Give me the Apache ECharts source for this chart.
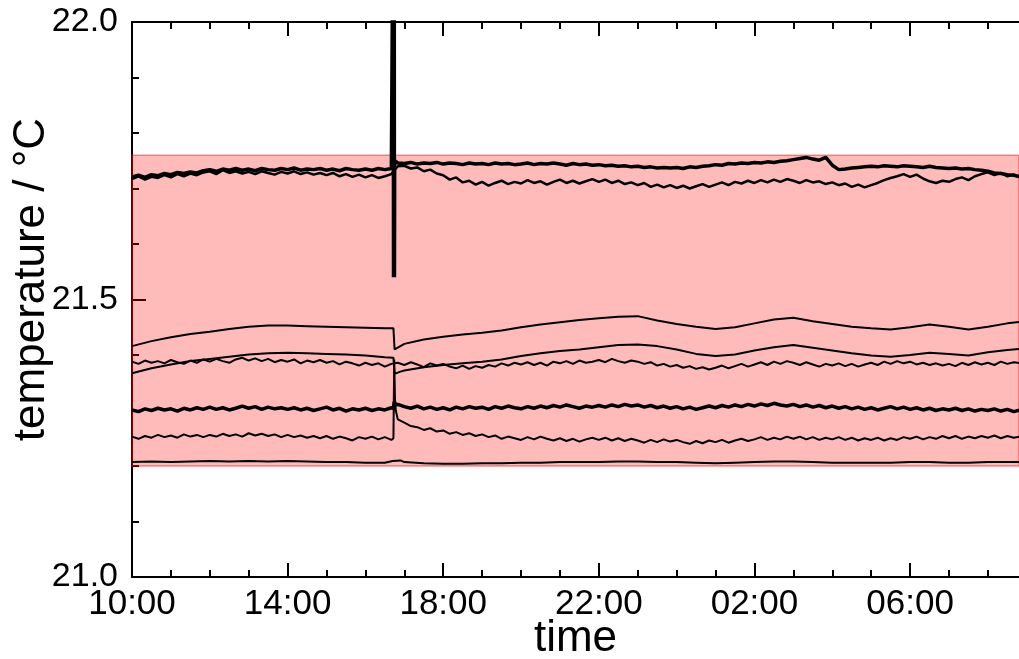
<!DOCTYPE html>
<html><head><meta charset="utf-8">
<script src="https://cdn.jsdelivr.net/npm/echarts@6/dist/echarts.min.js"></script>
<style>html,body{margin:0;padding:0;background:#fff}#c{width:1019px;height:659px}</style>
</head><body><div id="c"></div>
<script>
// ---------- data ----------
const START_HOUR = 10;            // x = hours after 10:00
const END_HOURS = 22.8;           // right edge of the plot (about 08:48)
const NOISY_STEP = 1 / 6;         // 10-minute samples
const SMOOTH_STEP = 0.5;          // 30-minute samples
const bandLimits = [21.2, 21.76];
const majorTickHours = [0, 4, 8, 12, 16, 20];
const minorTickHours = [1,2,3,5,6,7,9,10,11,13,14,15,17,18,19,21,22];

// top thick line
const t1Values = [
21.721,21.724,21.720,21.725,21.723,21.727,
21.725,21.729,21.727,21.730,21.728,21.732,
21.734,21.731,21.735,21.733,21.736,21.733,
21.735,21.732,21.736,21.734,21.733,21.736,
21.734,21.737,21.733,21.735,21.734,21.736,
21.733,21.735,21.732,21.736,21.734,21.733,
21.735,21.733,21.736,21.734,21.736,21.746,
21.745,21.747,21.744,21.746,21.745,21.747,
21.744,21.746,21.745,21.743,21.746,21.744,
21.745,21.743,21.746,21.744,21.745,21.743,
21.744,21.746,21.743,21.745,21.744,21.746,
21.744,21.742,21.745,21.743,21.744,21.742,
21.743,21.741,21.742,21.740,21.741,21.739,
21.740,21.738,21.739,21.737,21.738,21.737,
21.738,21.736,21.739,21.738,21.740,21.741,
21.743,21.742,21.745,21.744,21.746,21.745,
21.747,21.746,21.748,21.747,21.749,21.750,
21.752,21.754,21.756,21.753,21.751,21.756,
21.742,21.734,21.735,21.737,21.738,21.739,
21.740,21.739,21.741,21.740,21.739,21.741,
21.740,21.739,21.738,21.740,21.738,21.737,
21.736,21.737,21.735,21.736,21.734,21.733,
21.731,21.728,21.727,21.725,21.724,21.721];
const t1Event = [[6.712,21.737],[6.716,22.3],[6.722,21.54],[6.728,22.3],[6.734,21.54],
                 [6.740,22.3],[6.746,21.54],[6.752,21.75]];

// second top line
const t2Values = [
21.717,21.722,21.716,21.721,21.719,21.724,
21.720,21.726,21.722,21.727,21.724,21.729,
21.731,21.726,21.733,21.728,21.731,21.727,
21.730,21.726,21.731,21.728,21.725,21.730,
21.727,21.731,21.726,21.729,21.725,21.728,
21.724,21.728,21.722,21.726,21.721,21.725,
21.720,21.724,21.719,21.722,21.726,21.740,
21.741,21.736,21.738,21.731,21.734,21.727,
21.724,21.716,21.720,21.711,21.714,21.707,
21.712,21.705,21.710,21.714,21.708,21.712,
21.709,21.715,21.710,21.713,21.707,21.712,
21.716,21.710,21.714,21.709,21.713,21.717,
21.712,21.716,21.710,21.714,21.708,21.711,
21.706,21.710,21.703,21.707,21.702,21.706,
21.701,21.705,21.700,21.704,21.708,21.703,
21.707,21.711,21.706,21.712,21.709,21.714,
21.710,21.715,21.711,21.716,21.712,21.717,
21.714,21.710,21.715,21.711,21.713,21.708,
21.711,21.706,21.709,21.703,21.707,21.702,
21.706,21.710,21.715,21.719,21.722,21.726,
21.721,21.725,21.718,21.713,21.710,21.714,
21.712,21.717,21.720,21.715,21.722,21.726,
21.729,21.724,21.728,21.722,21.725,21.720];

// smooth line ~21.45
const aValues = [
21.416,21.425,21.432,21.438,21.442,21.447,21.451,21.453,21.453,21.452,
21.451,21.450,21.449,21.448,21.420,21.428,21.433,21.437,21.440,21.444,
21.450,21.455,21.459,21.463,21.466,21.469,21.470,21.462,21.456,21.451,
21.447,21.450,21.457,21.464,21.467,21.461,21.456,21.451,21.448,21.446,
21.450,21.455,21.451,21.446,21.451,21.457,21.461];
const aEvent = [[6.72,21.448],[6.75,21.410],[6.8,21.412],[6.9,21.416]];

// noisy line ~21.385
const bValues = [
21.388,21.384,21.390,21.386,21.389,21.385,
21.391,21.387,21.384,21.390,21.386,21.392,
21.388,21.393,21.389,21.386,21.392,21.395,
21.390,21.394,21.389,21.393,21.387,21.391,
21.388,21.392,21.385,21.390,21.387,21.391,
21.386,21.389,21.383,21.388,21.385,21.381,
21.386,21.382,21.385,21.379,21.384,21.386,
21.382,21.387,21.383,21.378,21.385,21.381,
21.384,21.379,21.376,21.381,21.375,21.380,
21.377,21.382,21.379,21.385,21.381,21.386,
21.383,21.387,21.382,21.386,21.381,21.388,
21.385,21.389,21.384,21.390,21.386,21.388,
21.391,21.387,21.393,21.389,21.386,21.390,
21.388,21.384,21.387,21.381,21.384,21.379,
21.382,21.377,21.380,21.375,21.378,21.374,
21.377,21.381,21.376,21.380,21.384,21.379,
21.383,21.387,21.382,21.388,21.384,21.389,
21.386,21.382,21.387,21.383,21.379,21.384,
21.381,21.385,21.380,21.384,21.379,21.383,
21.386,21.382,21.388,21.384,21.389,21.385,
21.388,21.383,21.386,21.382,21.385,21.381,
21.384,21.380,21.386,21.382,21.387,21.383,
21.386,21.382,21.388,21.384,21.387,21.385];

// smooth line ~21.40
const cValues = [
21.367,21.376,21.383,21.389,21.393,21.397,21.401,21.403,21.404,21.403,
21.402,21.401,21.399,21.396,21.372,21.378,21.382,21.385,21.388,21.392,
21.398,21.403,21.407,21.410,21.414,21.418,21.419,21.416,21.410,21.402,
21.398,21.401,21.408,21.414,21.418,21.413,21.408,21.403,21.399,21.397,
21.400,21.404,21.402,21.399,21.405,21.409,21.412];
const cEvent = [[6.72,21.395],[6.75,21.366],[6.8,21.368],[6.9,21.370]];

// thick noisy line ~21.305
const dValues = [
21.301,21.298,21.303,21.300,21.304,21.301,
21.303,21.299,21.304,21.301,21.305,21.302,
21.306,21.302,21.305,21.301,21.304,21.308,
21.304,21.307,21.302,21.306,21.303,21.305,
21.302,21.305,21.301,21.304,21.300,21.303,
21.306,21.301,21.304,21.299,21.303,21.301,
21.304,21.300,21.303,21.301,21.305,21.311,
21.307,21.304,21.308,21.303,21.306,21.302,
21.305,21.301,21.306,21.303,21.307,21.304,
21.306,21.302,21.307,21.304,21.308,21.305,
21.303,21.307,21.304,21.308,21.305,21.309,
21.306,21.310,21.307,21.304,21.308,21.306,
21.309,21.306,21.310,21.307,21.311,21.308,
21.310,21.306,21.309,21.305,21.308,21.304,
21.307,21.303,21.306,21.302,21.305,21.308,
21.305,21.309,21.306,21.310,21.307,21.311,
21.308,21.312,21.309,21.313,21.310,21.308,
21.311,21.307,21.310,21.306,21.309,21.305,
21.308,21.304,21.307,21.303,21.306,21.302,
21.305,21.301,21.304,21.307,21.303,21.306,
21.302,21.305,21.301,21.304,21.300,21.303,
21.301,21.304,21.300,21.303,21.299,21.302,
21.300,21.303,21.299,21.302,21.298,21.301];
const dEvent = [[6.72,21.304],[6.74,21.316],[6.78,21.310]];

// noisy line ~21.25
const eValues = [
21.253,21.249,21.254,21.251,21.256,21.252,
21.255,21.251,21.257,21.253,21.256,21.252,
21.256,21.253,21.258,21.254,21.257,21.253,
21.259,21.255,21.258,21.254,21.257,21.252,
21.256,21.252,21.255,21.251,21.254,21.250,
21.254,21.249,21.253,21.250,21.246,21.252,
21.249,21.253,21.248,21.252,21.247,21.284,
21.278,21.272,21.270,21.265,21.268,21.262,
21.264,21.258,21.261,21.256,21.259,21.254,
21.257,21.252,21.255,21.249,21.253,21.250,
21.247,21.252,21.248,21.253,21.249,21.246,
21.250,21.245,21.249,21.244,21.248,21.251,
21.247,21.251,21.246,21.250,21.245,21.249,
21.246,21.242,21.247,21.243,21.248,21.244,
21.247,21.243,21.240,21.245,21.241,21.246,
21.243,21.247,21.242,21.246,21.249,21.245,
21.248,21.252,21.247,21.251,21.248,21.253,
21.249,21.253,21.248,21.252,21.247,21.251,
21.248,21.252,21.247,21.251,21.246,21.250,
21.247,21.251,21.246,21.250,21.247,21.252,
21.249,21.253,21.248,21.252,21.249,21.254,
21.250,21.254,21.249,21.253,21.250,21.254,
21.251,21.255,21.250,21.254,21.251,21.253];
const eEvent = [[6.72,21.250],[6.74,21.392],[6.76,21.320],[6.78,21.300]];

// smooth line ~21.207
const fValues = [
21.207,21.208,21.207,21.208,21.209,21.208,21.209,21.208,21.209,21.208,
21.207,21.207,21.206,21.206,21.207,21.205,21.204,21.204,21.205,21.205,
21.206,21.206,21.207,21.207,21.207,21.208,21.208,21.207,21.207,21.206,
21.205,21.206,21.207,21.208,21.208,21.207,21.206,21.206,21.206,21.206,
21.207,21.207,21.206,21.206,21.207,21.207,21.207];
const fEvent = [[6.7,21.209],[6.75,21.212],[6.9,21.210]];

// ---------- build ----------
function pts(values, step, extra) {
  const p = values.map((v, i) => [i * step, v]);
  return p.concat(extra || []).sort((a, b) => a[0] - b[0]);
}
function hourLabel(v) {
  const h = (START_HOUR + Math.round(v)) % 24;
  return (h < 10 ? '0' : '') + h + ':00';
}
const FONT = 'Liberation Sans';
function line(data, width) {
  return { type: 'line', data, symbol: 'none', showSymbol: false, silent: true,
    lineStyle: { color: '#000', width }, itemStyle: { color: '#000' } };
}
function xAx(position, major, showLine, extra) {
  return Object.assign({
    type: 'value', min: 0, max: END_HOURS, position,
    axisLine: { show: showLine, onZero: false, lineStyle: { color: '#000', width: 2 } },
    axisTick: { show: true, inside: true, length: major ? 14 : 7,
      customValues: major ? majorTickHours : minorTickHours,
      lineStyle: { color: '#000', width: 2 } },
    axisLabel: { show: false },
    splitLine: { show: false }
  }, extra || {});
}
const chart = echarts.init(document.getElementById('c'), null, { renderer: 'canvas' });
chart.setOption({
  animation: false,
  backgroundColor: '#fff',
  grid: { left: 132, top: 22, bottom: 82, right: 0, containLabel: false, outerBoundsMode: 'none' },
  xAxis: [
    xAx('bottom', true, true, {
      name: 'time', nameLocation: 'middle', nameGap: 40, nameMoveOverlap: false,
      nameTextStyle: { fontFamily: FONT, fontSize: 44, color: '#000' },
      axisLabel: { show: true, customValues: majorTickHours, formatter: hourLabel,
        fontFamily: FONT, fontSize: 35, color: '#000', margin: 10 }
    }),
    xAx('bottom', false, false),
    xAx('top', true, true),
    xAx('top', false, false)
  ],
  yAxis: {
    type: 'value', min: 21, max: 22, interval: 0.5,
    name: 'temperature / °C', nameLocation: 'middle', nameGap: 78, nameMoveOverlap: false,
    nameTextStyle: { fontFamily: FONT, fontSize: 44, color: '#000', padding: [0, 0, 0, 40] },
    axisLine: { show: true, onZero: false, lineStyle: { color: '#000', width: 2 } },
    axisTick: { show: true, inside: true, length: 14, lineStyle: { color: '#000', width: 2 } },
    minorTick: { show: true, splitNumber: 5, length: 7, lineStyle: { color: '#000', width: 2 } },
    splitLine: { show: false },
    axisLabel: { formatter: v => v.toFixed(1), fontFamily: FONT, fontSize: 34, color: '#000', margin: 14 }
  },
  series: [
    { type: 'line', data: [[0, bandLimits[0]]], symbol: 'none', silent: true,
      lineStyle: { width: 0, opacity: 0 },
      markArea: { silent: true,
        itemStyle: { color: 'rgba(255,0,0,0.27)', borderColor: 'rgba(255,0,0,0.45)', borderWidth: 1.5 },
        data: [[{ yAxis: bandLimits[0] }, { yAxis: bandLimits[1] }]] } },
    line(pts(fValues, SMOOTH_STEP, fEvent), 2),
    line(pts(eValues, NOISY_STEP, eEvent), 2),
    line(pts(dValues, NOISY_STEP, dEvent), 3.5),
    line(pts(cValues, SMOOTH_STEP, cEvent), 2),
    line(pts(bValues, NOISY_STEP), 2),
    line(pts(aValues, SMOOTH_STEP, aEvent), 2),
    line(pts(t2Values, NOISY_STEP), 2.5),
    line(pts(t1Values, NOISY_STEP, t1Event), 3.5)
  ]
});
</script></body></html>
